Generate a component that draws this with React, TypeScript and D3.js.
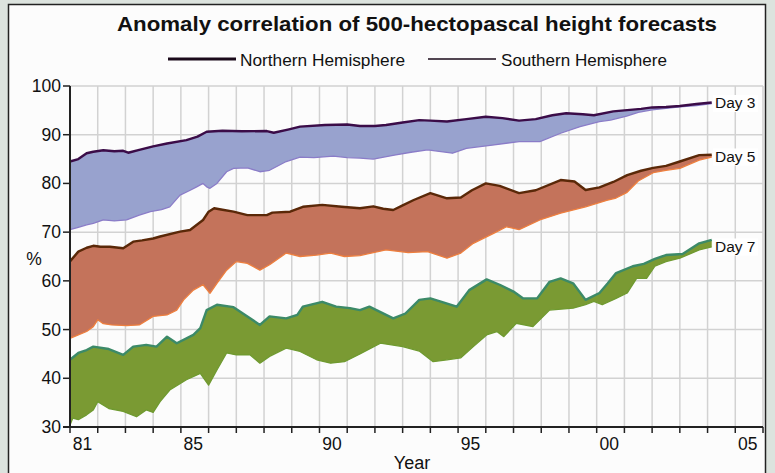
import React from "react";
import * as d3 from "d3";

type P = [number, number];

const day3NH: P[] = [[1981.0,84.5],[1981.3,85.0],[1981.6,86.2],[1981.84,86.5],[1982.2,86.8],[1982.6,86.6],[1982.92,86.7],[1983.1,86.3],[1983.5,86.9],[1984.0,87.6],[1984.5,88.2],[1985.2,88.9],[1985.6,89.6],[1985.93,90.6],[1986.5,90.8],[1987.2,90.7],[1988.1,90.75],[1988.35,90.4],[1988.9,91.1],[1989.3,91.65],[1990.2,92.0],[1991.0,92.1],[1991.46,91.8],[1992.0,91.8],[1992.4,92.0],[1993.0,92.5],[1993.6,93.0],[1994.0,92.9],[1994.6,92.7],[1995.3,93.2],[1996.0,93.7],[1996.6,93.4],[1997.2,92.9],[1997.8,93.2],[1998.4,94.0],[1998.9,94.4],[1999.5,94.2],[1999.9,94.0],[2000.6,94.8],[2001.2,95.1],[2001.6,95.3],[2002.0,95.6],[2002.5,95.7],[2003.0,95.9],[2003.6,96.3],[2004.15,96.6]];
const day3SH: P[] = [[1981.0,70.5],[1981.3,71.0],[1981.6,71.5],[1981.84,71.8],[1982.2,72.5],[1982.6,72.3],[1983.04,72.5],[1983.5,73.5],[1983.9,74.2],[1984.3,74.6],[1984.6,75.2],[1984.97,77.6],[1985.3,78.5],[1985.57,79.3],[1985.8,80.0],[1985.93,79.3],[1986.05,79.0],[1986.3,80.0],[1986.65,82.4],[1986.9,83.1],[1987.4,83.2],[1987.85,82.4],[1988.2,82.7],[1988.8,84.5],[1989.3,85.4],[1989.8,85.3],[1990.5,85.6],[1991.0,85.3],[1991.46,85.2],[1991.94,85.0],[1992.7,85.8],[1993.3,86.4],[1993.9,86.9],[1994.8,86.2],[1995.3,87.2],[1996.3,87.9],[1996.8,88.3],[1997.2,88.6],[1997.95,88.6],[1998.7,90.3],[1999.4,91.65],[2000.1,92.7],[2000.5,93.0],[2001.08,93.8],[2001.5,94.6],[2002.0,95.1],[2002.5,95.4],[2003.0,95.7],[2003.6,96.0],[2004.15,96.4]];
const day5NH: P[] = [[1981.0,64.0],[1981.3,66.0],[1981.6,66.8],[1981.84,67.2],[1982.1,67.0],[1982.44,67.0],[1982.92,66.7],[1983.28,68.05],[1983.6,68.3],[1984.0,68.7],[1984.25,69.1],[1984.97,70.1],[1985.33,70.45],[1985.8,72.5],[1986.0,74.2],[1986.2,74.9],[1986.5,74.6],[1986.9,74.2],[1987.4,73.5],[1988.1,73.5],[1988.3,74.0],[1988.94,74.2],[1989.4,75.2],[1990.1,75.6],[1990.8,75.2],[1991.46,74.9],[1991.94,75.3],[1992.3,74.8],[1992.66,74.55],[1993.0,75.5],[1993.4,76.6],[1994.0,78.0],[1994.6,76.95],[1995.1,77.1],[1995.5,78.6],[1996.0,80.0],[1996.5,79.5],[1997.2,78.0],[1997.8,78.6],[1998.7,80.7],[1999.2,80.4],[1999.6,78.65],[2000.1,79.2],[2000.6,80.3],[2001.1,81.7],[2001.6,82.6],[2002.04,83.2],[2002.5,83.6],[2003.0,84.5],[2003.7,85.8],[2004.15,85.9]];
const day5SH: P[] = [[1981.0,48.2],[1981.3,48.9],[1981.6,49.6],[1981.84,50.6],[1982.0,52.0],[1982.2,51.2],[1982.5,50.95],[1983.04,50.8],[1983.5,50.95],[1984.0,52.7],[1984.5,53.0],[1984.85,54.0],[1985.1,56.1],[1985.45,58.1],[1985.8,59.2],[1986.05,57.45],[1986.3,59.5],[1986.65,62.2],[1987.0,63.95],[1987.4,63.6],[1987.85,62.2],[1988.2,63.3],[1988.8,65.7],[1989.3,65.0],[1989.9,65.3],[1990.4,65.7],[1990.9,65.0],[1991.46,65.2],[1992.4,66.35],[1993.2,65.8],[1993.9,66.0],[1994.6,64.65],[1995.1,65.7],[1995.55,67.7],[1996.3,69.8],[1996.75,71.1],[1997.2,70.5],[1997.95,72.5],[1998.7,73.9],[1999.6,75.2],[2000.36,76.5],[2000.7,77.0],[2001.08,78.1],[2001.5,80.5],[2002.04,82.2],[2002.5,82.7],[2003.0,83.1],[2003.7,84.8],[2004.15,85.4]];
const day7NH: P[] = [[1981.0,43.8],[1981.3,45.2],[1981.6,45.8],[1981.84,46.5],[1982.4,46.0],[1982.92,44.8],[1983.28,46.5],[1983.75,46.85],[1984.12,46.5],[1984.5,48.55],[1984.85,47.2],[1985.45,48.9],[1985.7,50.3],[1985.93,54.0],[1986.3,55.1],[1986.9,54.6],[1987.4,52.7],[1987.85,50.95],[1988.2,52.7],[1988.8,52.3],[1989.2,53.0],[1989.4,54.7],[1990.1,55.7],[1990.6,54.7],[1991.1,54.4],[1991.46,54.0],[1991.8,54.7],[1992.66,52.3],[1993.1,53.3],[1993.6,56.1],[1994.0,56.4],[1994.35,55.8],[1994.95,54.7],[1995.4,58.1],[1996.03,60.3],[1996.5,59.2],[1997.0,57.8],[1997.35,56.4],[1997.85,56.4],[1998.3,59.8],[1998.7,60.5],[1999.15,59.5],[1999.6,56.1],[2000.1,57.5],[2000.4,59.5],[2000.7,61.6],[2001.3,63.0],[2001.7,63.5],[2002.1,64.5],[2002.5,65.3],[2003.1,65.5],[2003.7,67.7],[2004.15,68.4]];
const day7SH: P[] = [[1981.0,30.4],[1981.1,31.8],[1981.3,31.5],[1981.6,32.5],[1981.84,33.5],[1982.0,35.2],[1982.4,33.8],[1982.92,33.2],[1983.4,32.1],[1983.75,33.5],[1984.0,33.0],[1984.25,35.2],[1984.6,37.6],[1985.2,39.7],[1985.7,41.0],[1986.0,38.6],[1986.3,41.7],[1986.65,45.2],[1987.0,44.8],[1987.5,44.8],[1987.85,43.1],[1988.2,44.5],[1988.8,46.2],[1989.3,45.5],[1989.9,43.8],[1990.4,43.1],[1990.9,43.4],[1991.46,45.0],[1992.2,47.2],[1993.0,46.5],[1993.6,45.6],[1994.1,43.4],[1994.6,43.8],[1995.1,44.2],[1995.55,46.5],[1996.03,48.9],[1996.4,49.6],[1996.65,48.55],[1997.1,51.3],[1997.7,50.6],[1998.3,54.0],[1999.15,54.4],[1999.6,55.1],[1999.9,55.8],[2000.2,55.1],[2000.7,56.4],[2001.1,57.5],[2001.44,60.5],[2001.8,60.5],[2002.1,63.0],[2002.5,63.95],[2003.0,64.65],[2003.7,66.35],[2004.15,67.0]];

const yTicks = [30, 40, 50, 60, 70, 80, 90, 100];
const xLabelYears = [1981, 1985, 1990, 1995, 2000, 2005];
const xLabels = ["81", "85", "90", "95", "00", "05"];
const bandNames = ["Day 3", "Day 5", "Day 7"];

const bands = [
  { name: bandNames[0], nh: day3NH, sh: day3SH, fill: "#98a2ce", nhc: "#3b0c48", shc: "#8a7cc8", labelY: 108 },
  { name: bandNames[1], nh: day5NH, sh: day5SH, fill: "#c4735b", nhc: "#5a2808", shc: "#ee7f3e", labelY: 161.5 },
  { name: bandNames[2], nh: day7NH, sh: day7SH, fill: "#7a9a33", nhc: "#3c8a68", shc: "#6f9a30", labelY: 251.5 },
];

const FONT = "'Liberation Sans', Arial, Helvetica, sans-serif";

export default function App() {
  const W = 775, H = 473;
  const x = d3.scaleLinear().domain([1981, 2006]).range([70, 763]);
  const y = d3.scaleLinear().domain([30, 100]).range([427, 86]);
  const line = d3.line<P>().x((d) => x(d[0])).y((d) => y(d[1]));
  const years = d3.range(1981, 2007);

  return (
    <svg width={W} height={H} style={{ position: "absolute", left: 0, top: 0, display: "block" }} fontFamily={FONT}>
      <rect x={0} y={0} width={W} height={H} fill="#dce3de" />
      <rect x={8.5} y={4.5} width={757} height={H + 20} fill="#fcfcfc" stroke="#222" strokeWidth={1.5} />

      <text x={417} y={31} textAnchor="middle" fontSize={21} fontWeight="bold" fill="#111" textLength={600} lengthAdjust="spacingAndGlyphs">
        Anomaly correlation of 500-hectopascal height forecasts
      </text>
      <line x1={168} x2={236} y1={59} y2={59} stroke="#1a0a1a" strokeWidth={3} />
      <text x={240} y={65.5} fontSize={17} fill="#111" textLength={165} lengthAdjust="spacingAndGlyphs">Northern Hemisphere</text>
      <line x1={428} x2={496} y1={59} y2={59} stroke="#1a0a1a" strokeWidth={1.5} />
      <text x={501} y={65.5} fontSize={17} fill="#111" textLength={166} lengthAdjust="spacingAndGlyphs">Southern Hemisphere</text>

      {/* grid */}
      {years.slice(1).map((yr) => (
        <line key={"gx" + yr} x1={x(yr)} x2={x(yr)} y1={y(100)} y2={y(30)} stroke="#d2d2d2" strokeWidth={1.5} />
      ))}
      {yTicks.slice(1).map((v) => (
        <line key={"gy" + v} x1={x(1981)} x2={x(2006)} y1={y(v)} y2={y(v)} stroke="#d2d2d2" strokeWidth={1.5} />
      ))}

      {/* bands */}
      {bands.map((b) => (
        <g key={b.name}>
          <path d={(line(b.nh.concat(b.sh.slice().reverse())) || "") + "Z"} fill={b.fill} stroke="none" />
          <path d={line(b.sh) || ""} fill="none" stroke={b.shc} strokeWidth={1.3} strokeLinejoin="round" />
          <path d={line(b.nh) || ""} fill="none" stroke={b.nhc} strokeWidth={2.4} strokeLinejoin="round" />
        </g>
      ))}

      {/* right labels */}
      {bands.map((b) => (
        <g key={"l" + b.name}>
          <rect x={713} y={b.labelY - 13} width={45} height={17} fill="#ffffff" />
          <text x={715} y={b.labelY} fontSize={15.5} fill="#111">{b.name}</text>
        </g>
      ))}

      {/* axes */}
      <line x1={x(1981)} x2={x(1981)} y1={y(100)} y2={y(30) + 1} stroke="#222" strokeWidth={2} />
      <line x1={x(1981) - 7} x2={x(2006)} y1={y(30)} y2={y(30)} stroke="#222" strokeWidth={2} />
      {yTicks.map((v) => (
        <g key={"yt" + v}>
          <line x1={x(1981) - 7} x2={x(1981)} y1={y(v)} y2={y(v)} stroke="#222" strokeWidth={1.5} />
          <text x={61} y={y(v) + 6} textAnchor="end" fontSize={17.5} fill="#111">{v}</text>
        </g>
      ))}
      {years.map((yr) => (
        <line key={"xt" + yr} x1={x(yr)} x2={x(yr)} y1={y(30)} y2={y(30) + 6} stroke="#222" strokeWidth={1.5} />
      ))}
      {xLabelYears.map((yr, i) => (
        <text key={"xl" + yr} x={x(yr + 0.45)} y={450} textAnchor="middle" fontSize={17.5} fill="#111">{xLabels[i]}</text>
      ))}
      <text x={412} y={469} textAnchor="middle" fontSize={18} fill="#111">Year</text>
      <text x={34} y={265} textAnchor="middle" fontSize={17.5} fill="#111">%</text>
    </svg>
  );
}
